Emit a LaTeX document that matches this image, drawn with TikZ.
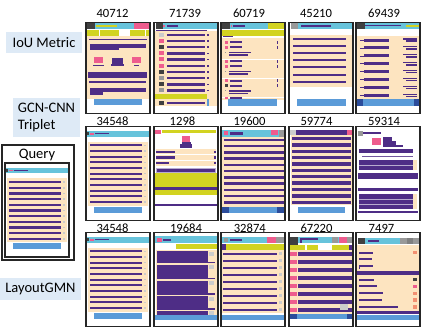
\documentclass[tikz,border=0pt]{standalone}
\usepackage{fontspec}
\setmainfont{Carlito}
\definecolor{hdr}{HTML}{67C3DB}
\definecolor{body}{HTML}{FDE4C0}
\definecolor{bar}{HTML}{4E2D86}
\definecolor{foot}{HTML}{5B9BD8}
\definecolor{lime}{HTML}{D2D321}
\definecolor{pinkc}{HTML}{EE5C8E}
\definecolor{dgray}{HTML}{404040}
\definecolor{mgray}{HTML}{999999}
\definecolor{lgray}{HTML}{CCCCCC}
\definecolor{navy}{HTML}{2B4C9B}
\definecolor{orng}{HTML}{F39071}
\definecolor{tagbg}{HTML}{DEEAF6}
\newcommand\layoutA{%
  \fill[hdr] (1,4.5) rectangle (63,10);
  \fill[dgray] (1,5.5) rectangle (3,8.5);
  \fill[pinkc] (3.5,6.5) rectangle (8,8);
  \fill[bar] (9,6.2) rectangle (23,7.6);
  \fill[body] (2,15) rectangle (62,79);
  \foreach \y in {0,...,10} {
    \fill[bar] (4,17.8+5.67*\y) rectangle (56,19.9+5.67*\y);
    \fill[lgray] (58,18+5.67*\y) rectangle (60,19.6+5.67*\y);
  }
  \fill[foot] (7.5,80) rectangle (56,86);
}

\begin{document}
\begin{tikzpicture}[x=1pt, y=-1pt,
    frame/.style={draw=black!85, line width=1.9pt, minimum width=64pt, minimum height=94pt, inner sep=0pt},
    num/.style={font=\fontsize{12.6}{14}\selectfont, inner sep=0pt},
    tag/.style={fill=tagbg, font=\fontsize{14.5}{17}\selectfont, inner sep=0pt, align=left}
]
\fill[white] (0,0) rectangle (423,330);

\node[tag, minimum width=76pt, minimum height=21pt] (iou) at (44,42.5) {IoU Metric};
\node[tag, minimum width=67pt, minimum height=39pt] (gcn) at (46.5,117.5) {GCN-CNN\\Triplet};
\node[tag, minimum width=81pt, minimum height=22pt] (gmn) at (40.5,289) {LayoutGMN};

\node[draw=black!85, line width=1.6pt, minimum width=72pt, minimum height=115pt] (query) at (37.8,202.5) {};
\node[num, font=\fontsize{14.5}{17}\selectfont] (qlabel) at (37,155) {Query};
\begin{scope}[shift={(5,163.3)}]
  \layoutA
\end{scope}
\node[frame] (fquery) at (37,210) {};

% row 1
\begin{scope}[shift={(86,22.5)}]
  \fill[body] (1,13) rectangle (63,76);
  \fill[dgray] (1,0) rectangle (9,6.5);
  \fill[hdr] (9,0) rectangle (48,6.5);
  \fill[pinkc] (48,0) rectangle (63,6.5);
  \fill[lime] (10,2) rectangle (31,4.3);
  \fill[lime] (1,7) rectangle (13,13);
  \fill[lime] (14,7) rectangle (33,13);
  \fill[lime] (44,7) rectangle (59,13);
  \fill[lime] (60,7) rectangle (63,13);
  \fill[bar] (3,16) rectangle (61,17.5);
  \fill[bar] (4,21) rectangle (60,25.5);
  \fill[bar] (4,25.5) rectangle (33,27);
  \fill[pinkc] (8,34) rectangle (17,40.5);
  \fill[pinkc] (46,34) rectangle (55,40.5);
  \fill[bar] (26,35) rectangle (37,41);
  \fill[bar] (7,42) rectangle (18,43.5);
  \fill[bar] (25,41) rectangle (38,43.5);
  \fill[bar] (48,42) rectangle (53,43.5);
  \fill[bar] (2,49) rectangle (61,55.5);
  \fill[bar] (3,58) rectangle (60,60);
  \fill[bar] (4,65) rectangle (60,69.5);
  \fill[bar] (4,69.5) rectangle (17,72);
  \fill[foot] (8,76) rectangle (56,82);
\end{scope}
\begin{scope}[shift={(154,22.5)}]
  \fill[body] (1,8) rectangle (63,83);
  \fill[dgray] (1.5,0) rectangle (9,6.5);
  \fill[hdr] (9,0) rectangle (64,6.5);
  \fill[pinkc] (9,2) rectangle (11,4);
  \fill[bar] (13,2) rectangle (24,4.5);
  \fill[bar] (2,7) rectangle (53,8);
  \foreach \y/\c in {0/lgray,1/pinkc,2/dgray,3/pinkc,4/pinkc,5/pinkc,6/dgray,7/mgray,8/dgray,9/mgray} {
    \fill[\c] (5,10+6.2*\y) rectangle (10,14+6.2*\y);
    \fill[bar] (13,11+6.2*\y) rectangle (51,13.5+6.2*\y);
    \fill[bar] (53,11.5+6.2*\y) rectangle (55,13+6.2*\y);
  }
  \fill[lime] (1,71) rectangle (53,76);
  \fill[dgray] (5,78) rectangle (10,82);
  \fill[bar] (13,79) rectangle (51,81.5);
  \fill[foot] (53,76) rectangle (55,83);
\end{scope}
\begin{scope}[shift={(221,22.5)}]
  \fill[body] (1,15) rectangle (63,77);
  \fill[dgray] (1,0) rectangle (8.7,6.5);
  \fill[hdr] (8.7,0) rectangle (47,6.5);
  \fill[lime] (47,0) rectangle (63,6.5);
  \fill[pinkc] (9.5,2) rectangle (11,4);
  \fill[bar] (12,2) rectangle (24,4.5);
  \fill[lime] (1,7) rectangle (63,13);
  \fill[bar] (2,13.8) rectangle (12,14.8);
  \foreach \g/\c in {0/pinkc,1/pinkc,2/dgray} {
    \fill[pinkc] (4,18.5+19.2*\g) rectangle (6.5,21+19.2*\g);
    \fill[bar] (8.7,18.7+19.2*\g) rectangle (21,20.7+19.2*\g);
    \fill[\c] (4,23.5+19.2*\g) rectangle (6.5,26+19.2*\g);
    \fill[bar] (8.7,23.7+19.2*\g) rectangle (21,25.7+19.2*\g);
    \fill[mgray] (4,29.5+19.2*\g) rectangle (5,30.5+19.2*\g);
    \fill[bar] (8,29.3+19.2*\g) rectangle (30,30.6+19.2*\g);
    \fill[bar] (8,31.7+19.2*\g) rectangle (27,33+19.2*\g);
    \fill[bar] (56,18.5+19.2*\g) rectangle (56.8,21+19.2*\g);
    \fill[bar] (56,23.5+19.2*\g) rectangle (56.8,26+19.2*\g);
    \draw[white, line width=0.8pt] (1,36.5+19.2*\g) -- (63,36.5+19.2*\g);
  }
  \fill[pinkc] (4,74.5) rectangle (6.5,76.5);
  \fill[bar] (8.7,74.7) rectangle (21,76.5);
  \fill[foot] (7,76) rectangle (56,83);
\end{scope}
\begin{scope}[shift={(289,22.5)}]
  \fill[mgray] (1.7,0) rectangle (9,6.5);
  \fill[hdr] (9,0) rectangle (64,6.5);
  \fill[bar] (12,2) rectangle (41.7,4.5);
  \fill[body] (1,12) rectangle (63,64);
  \foreach \y in {0,...,6}
    \fill[bar] (4,15.3+7.17*\y) rectangle (56.7,17.3+7.17*\y);
  \fill[foot] (8,76) rectangle (56.7,83);
\end{scope}
\begin{scope}[shift={(356,22.5)}]
  \fill[dgray] (1.3,0) rectangle (9.3,6.5);
  \fill[hdr] (9.3,0) rectangle (64,6.5);
  \fill[bar] (9,2.5) rectangle (45,3.7);
  \fill[lime] (50,2) rectangle (64,4.3);
  \fill[body] (1,13.7) rectangle (64,76);
  \foreach \y in {0,...,7} {
    \fill[bar] (4,17.2+7.9*\y) rectangle (8,17.9+7.9*\y);
    \fill[bar] (8,16+7.9*\y) rectangle (32.7,19+7.9*\y);
    \fill[bar] (47,15.8+7.9*\y) rectangle (61,17+7.9*\y);
    \fill[bar] (50,17.8+7.9*\y) rectangle (61,19.3+7.9*\y);
  }
  \fill[foot] (1,76) rectangle (64,83);
  \fill[navy] (1,76) rectangle (7,83);
  \fill[navy] (58,76) rectangle (64,83);
\end{scope}
\node[frame, minimum height=91pt] (f40712) at (118,68) {};
\node[frame, minimum height=91pt] (f71739) at (186,68) {};
\node[frame, minimum height=91pt] (f60719) at (253,68) {};
\node[frame, minimum height=91pt] (f45210) at (321,68) {};
\node[frame, minimum height=91pt] (f69439) at (388,68) {};
\node[num] (n40712) at (112.5,13) {40712};
\node[num] (n71739) at (185,13) {71739};
\node[num] (n60719) at (249,13) {60719};
\node[num] (n45210) at (316,13) {45210};
\node[num] (n69439) at (384,13) {69439};

% row 2
\begin{scope}[shift={(86,126.5)}]
  \layoutA
\end{scope}
\begin{scope}[shift={(154,126.5)}]
  \fill[pinkc] (1,3) rectangle (6.7,7.7);
  \fill[lime] (8.3,3.5) rectangle (61.7,6.8);
  \fill[pinkc] (28.3,9.7) rectangle (36,15.3);
  \fill[bar] (27.5,15.3) rectangle (36.5,17.7);
  \fill[bar] (26,17.7) rectangle (37.7,21);
  \fill[body] (1.5,22) rectangle (62,39.7);
  \draw[white, line width=0.8pt] (1.5,28) -- (62,28) (1.5,33.8) -- (62,33.8);
  \fill[bar] (2.3,24) rectangle (20.7,26.3);
  \fill[bar] (2.3,29.7) rectangle (21,32);
  \fill[bar] (2.3,35.3) rectangle (14.5,37.5);
  \foreach \y in {24,29.7,35.3}
    \fill[bar] (60.3,\y) rectangle (61.5,\y+2.3);
  \fill[bar, draw=bar!40] (2.3,41.3) rectangle (61,45.3);
  \fill[lime] (1,46.3) rectangle (64,68.7);
  \fill[bar] (1,60.3) rectangle (64,63.7);
  \fill[bar] (1,77) rectangle (64,79);
\end{scope}
\begin{scope}[shift={(221,126.5)}]
  \fill[hdr] (1,3.7) rectangle (63,10.3);
  \fill[pinkc] (2.7,4.7) rectangle (7,8.7);
  \fill[bar] (8.7,5.3) rectangle (22,8);
  \fill[pinkc] (50.3,3.7) rectangle (57,8.7);
  \fill[mgray] (57.5,3.7) rectangle (63,10.3);
  \fill[body] (1,10.5) rectangle (63,80);
  \foreach \y in {0,...,10}
    \fill[bar] (3,12+6.27*\y) rectangle (63,14.5+6.27*\y);
  \fill[foot] (1,80.3) rectangle (63,86.3);
  \fill[navy] (1,80.3) rectangle (7.7,86.3);
  \fill[navy] (56,80.3) rectangle (63,86.3);
\end{scope}
\begin{scope}[shift={(289,126.5)}]
  \fill[lgray] (1,3.7) rectangle (6.7,8.7);
  \fill[bar] (6.7,3.7) rectangle (57.7,8.7);
  \fill[pinkc] (57.7,3.7) rectangle (62.7,8.7);
  \fill[body] (1.5,8.7) rectangle (62.5,78.7);
  \foreach \y in {0,...,10}
    \fill[bar] (2.7,10.3+6.37*\y) rectangle (62,13.7+6.37*\y);
  \fill[foot] (8.7,80.3) rectangle (56,86.3);
\end{scope}
\begin{scope}[shift={(356,126.5)}]
  \fill[mgray] (1.7,4.3) rectangle (7.3,9.3);
  \fill[bar] (7.3,5.8) rectangle (25,7.3);
  \fill[pinkc] (16.3,11) rectangle (25,18.7);
  \fill[bar] (26.7,10.3) rectangle (35.7,18.7);
  \fill[bar] (35.7,14) rectangle (40,18.7);
  \fill[bar] (26.7,18.7) rectangle (47.3,20);
  \fill[bar] (3,22) rectangle (57.3,26.3);
  \fill[bar!80] (6,29) rectangle (57.3,30.8);
  \fill[body] (3,33) rectangle (61,43.7);
  \fill[bar] (3,33) rectangle (57.3,43.7);
  \fill[bar!40] (3,38) rectangle (57.3,38.7);
  \fill[bar] (1.7,46.3) rectangle (62.3,52);
  \fill[bar] (1.7,61.3) rectangle (62.3,64.7);
  \fill[body] (3,67) rectangle (61,82);
  \fill[bar] (3,67) rectangle (57.3,82);
  \fill[bar!40] (3,72) rectangle (57.3,72.6);
  \fill[bar!40] (3,77) rectangle (57.3,77.6);
  \fill[bar] (1.7,84.3) rectangle (62.3,86.3);
\end{scope}
\node[frame] (f34548a) at (118,173.5) {};
\node[frame] (f1298) at (186,173.5) {};
\node[frame] (f19600) at (253,173.5) {};
\node[frame] (f59774) at (321,173.5) {};
\node[frame] (f59314) at (388,173.5) {};
\node[num] (n34548a) at (112.5,121) {34548};
\node[num] (n1298) at (182.5,121) {1298};
\node[num] (n19600) at (249.5,121) {19600};
\node[num] (n59774) at (316.5,121) {59774};
\node[num] (n59314) at (384,121) {59314};

% row 3
\begin{scope}[shift={(86,232.5)}]
  \layoutA
\end{scope}
\begin{scope}[shift={(154,232.5)}]
  \fill[hdr] (1,3.7) rectangle (64,10.3);
  \fill[pinkc] (2.7,5.3) rectangle (7.7,9.3);
  \fill[bar] (9,6.3) rectangle (17.3,8.7);
  \fill[lime] (21.7,11) rectangle (64,16.3);
  \fill[body] (2,17.5) rectangle (64,82);
  \foreach \a/\b in {18.7/30.3, 32/46.3, 48/62, 63.7/77} {
    \fill[bar] (2.7,\a) rectangle (54,\b);
    \fill[bar] (54,\b-1.2) rectangle (61,\b);
    \fill[lgray] (55,\a+0.5) rectangle (60,\a+4.5);
  }
  \fill[bar] (2.7,78.5) rectangle (54,82);
  \fill[lgray] (55,78.5) rectangle (60,82);
  \fill[foot] (1,82) rectangle (64,87.7);
\end{scope}
\begin{scope}[shift={(221,232.5)}]
  \fill[hdr] (1,4.3) rectangle (63,10.3);
  \fill[mgray] (2.5,5) rectangle (6.5,9);
  \fill[bar] (8.7,6.3) rectangle (21.3,8.5);
  \fill[pinkc] (46.3,4.3) rectangle (54.7,10.3);
  \fill[mgray] (55.3,4.3) rectangle (63,10.3);
  \fill[lime] (3,11) rectangle (63,17);
  \fill[bar] (0.7,11) rectangle (4.7,17);
  \fill[body] (1,17) rectangle (63,80.3);
  \foreach \y in {0,...,8} {
    \fill[bar] (2.3,20+7*\y) rectangle (55.7,22.3+7*\y);
    \fill[lgray] (58,19.8+7*\y) rectangle (61,22.5+7*\y);
  }
  \fill[foot] (1,82) rectangle (63,87.7);
\end{scope}
\begin{scope}[shift={(289,232.5)}]
  \fill[dgray] (1,4.3) rectangle (8.7,12);
  \fill[hdr] (8.7,4.3) rectangle (64,10.7);
  \fill[bar] (11,5.3) rectangle (29.3,7.3);
  \fill[bar] (11,5.3) rectangle (13.3,10.7);
  \fill[mgray] (42.7,4.3) rectangle (49.3,10.7);
  \fill[pinkc] (50,4.3) rectangle (57.7,10.7);
  \fill[mgray] (57.7,4.3) rectangle (62.7,10.7);
  \fill[lime] (1,12) rectangle (16,17.7);
  \fill[lime] (17.7,12) rectangle (29.3,17.7);
  \fill[lime] (42.7,12) rectangle (60,17.7);
  \fill[bar] (60,12) rectangle (64,17.7);
  \fill[body] (1,17.7) rectangle (64,81);
  \foreach \y in {0,...,7} {
    \fill[pinkc] (1,19.7+8*\y) rectangle (7.7,23.7+8*\y);
    \fill[bar] (9.3,19.7+8*\y) rectangle (64,23.7+8*\y);
  }
  \fill[lgray] (51,71) rectangle (59.3,77);
  \fill[foot] (1,81) rectangle (64,86.3);
  \fill[navy] (1,81) rectangle (7.7,86.3);
  \fill[navy] (57.7,81) rectangle (64,86.3);
\end{scope}
\begin{scope}[shift={(356,232.5)}]
  \fill[dgray] (1.7,5.3) rectangle (9,11);
  \fill[hdr] (9,5.3) rectangle (64,11);
  \fill[bar] (12.3,7) rectangle (23,9.3);
  \fill[mgray] (44,5.3) rectangle (50.5,11);
  \fill[gray] (50.5,5.3) rectangle (57,11);
  \fill[mgray] (57,5.3) rectangle (64,11);
  \fill[body] (1,12) rectangle (64,80.3);
  \fill[bar] (3,19) rectangle (17.3,21);
  \fill[bar] (3,25.5) rectangle (16,27.5);
  \fill[bar] (3,32) rectangle (17,34);
  \fill[bar] (3,32) rectangle (4,36);
  \fill[orng] (57.3,18.3) rectangle (61.3,21.7);
  \fill[bar] (1,38.7) rectangle (64,42);
  \foreach \w/\c/\y in {18.3/dgray/0, 20.7/pinkc/1, 27.3/orng/2, 25.7/orng/3, 42.3/orng/4} {
    \fill[bar] (3,46+6.9*\y) rectangle (\w,48+6.9*\y);
    \fill[\c] (57.3,45.2+6.9*\y) rectangle (61.3,48.8+6.9*\y);
  }
  \fill[bar] (1,78.7) rectangle (64,81);
  \fill[foot] (1,82) rectangle (64,87);
\end{scope}
\node[frame] (f34548b) at (118,279.5) {};
\node[frame] (f19684) at (186,279.5) {};
\node[frame] (f32874) at (253,279.5) {};
\node[frame] (f67220) at (321,279.5) {};
\node[frame] (f7497) at (388,279.5) {};
\node[num] (n34548b) at (112.5,228) {34548};
\node[num] (n19684) at (186,228) {19684};
\node[num] (n32874) at (249.8,228) {32874};
\node[num] (n67220) at (316.5,228) {67220};
\node[num] (n7497) at (381.5,228) {7497};
\end{tikzpicture}
\end{document}
